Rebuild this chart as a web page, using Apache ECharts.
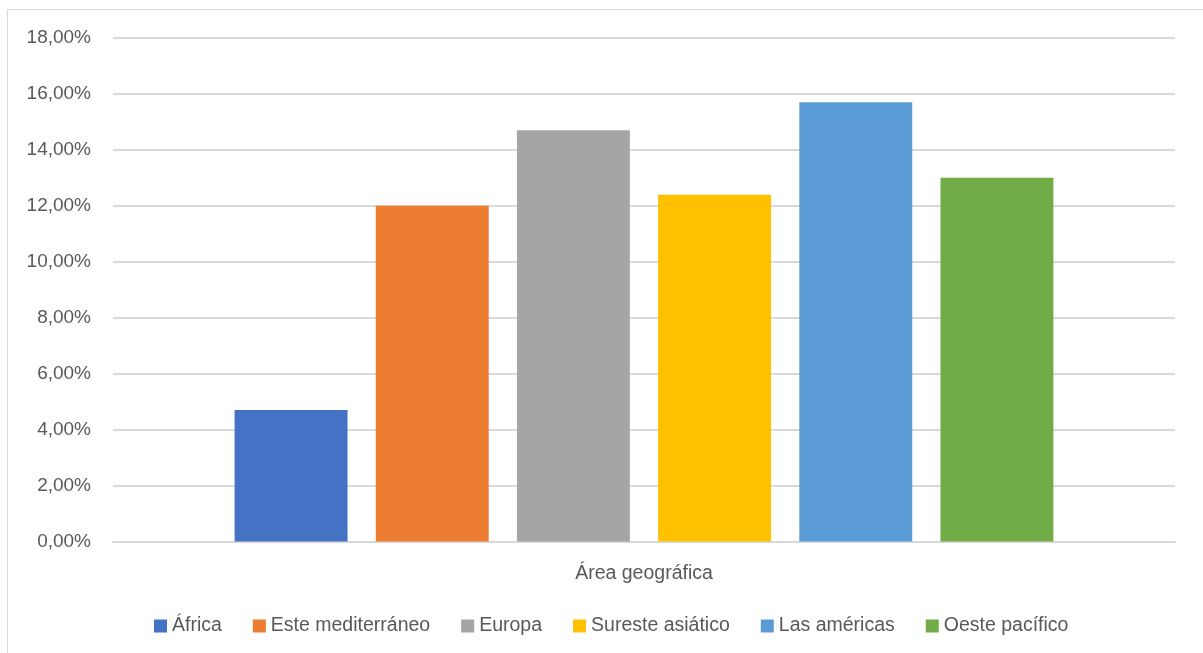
<!DOCTYPE html>
<html>
<head>
<meta charset="utf-8">
<script src="https://cdn.jsdelivr.net/npm/echarts@6/dist/echarts.min.js"></script>
<style>
  html, body { margin: 0; padding: 0; background: #ffffff; }
  #chart { width: 1203px; height: 653px; }
</style>
</head>
<body>
<div id="chart"></div>
<script>
// Data
var categories = ['Área geográfica'];
var seriesNames = ['África', 'Este mediterráneo', 'Europa', 'Sureste asiático', 'Las américas', 'Oeste pacífico'];
var seriesValues = [4.7, 12.0, 14.7, 12.4, 15.7, 13.0]; // percent
var seriesColors = ['#4472C4', '#ED7D31', '#A5A5A5', '#FFC000', '#5B9BD5', '#70AD47'];
var yTicks = { min: 0, max: 18, interval: 2 };

var FONT = "'Liberation Sans', Arial, sans-serif";
var TXT = '#595959';

var chart = echarts.init(document.getElementById('chart'), null, { renderer: 'canvas' });

var series = seriesNames.map(function (name, i) {
  return {
    name: name,
    type: 'bar',
    data: [seriesValues[i]],
    itemStyle: { color: seriesColors[i] },
    barGap: '25%',
    barCategoryGap: '22.9%'
  };
});

chart.setOption({
  animation: false,
  backgroundColor: '#ffffff',
  textStyle: { fontFamily: FONT, color: TXT },
  graphic: [{
    type: 'rect',
    shape: { x: 7.5, y: 9.5, width: 1300, height: 700 },
    style: { fill: 'none', stroke: '#d9d9d9', lineWidth: 1 },
    silent: true,
    z: -10
  }],
  grid: { left: 113, right: 28, top: 38, bottom: 111.5, containLabel: false },
  legend: {
    data: seriesNames,
    left: 149,
    top: 611,
    itemWidth: 13,
    itemHeight: 13,
    itemGap: 31,
    icon: 'rect',
    textStyle: { fontFamily: FONT, fontSize: 19.5, color: TXT }
  },
  xAxis: {
    type: 'category',
    data: categories,
    axisLine: { show: true, lineStyle: { color: '#d9d9d9', width: 2 } },
    axisTick: { show: false },
    axisLabel: { fontFamily: FONT, fontSize: 19.5, color: TXT, margin: 22 }
  },
  yAxis: {
    type: 'value',
    min: yTicks.min,
    max: yTicks.max,
    interval: yTicks.interval,
    axisLine: { show: false },
    axisTick: { show: false },
    splitLine: { lineStyle: { color: '#d9d9d9', width: 2 } },
    axisLabel: {
      fontFamily: FONT, fontSize: 19, color: TXT, margin: 22,
      formatter: function (v) { return v.toFixed(2).replace('.', ',') + '%'; }
    }
  },
  series: series
});
</script>
</body>
</html>
